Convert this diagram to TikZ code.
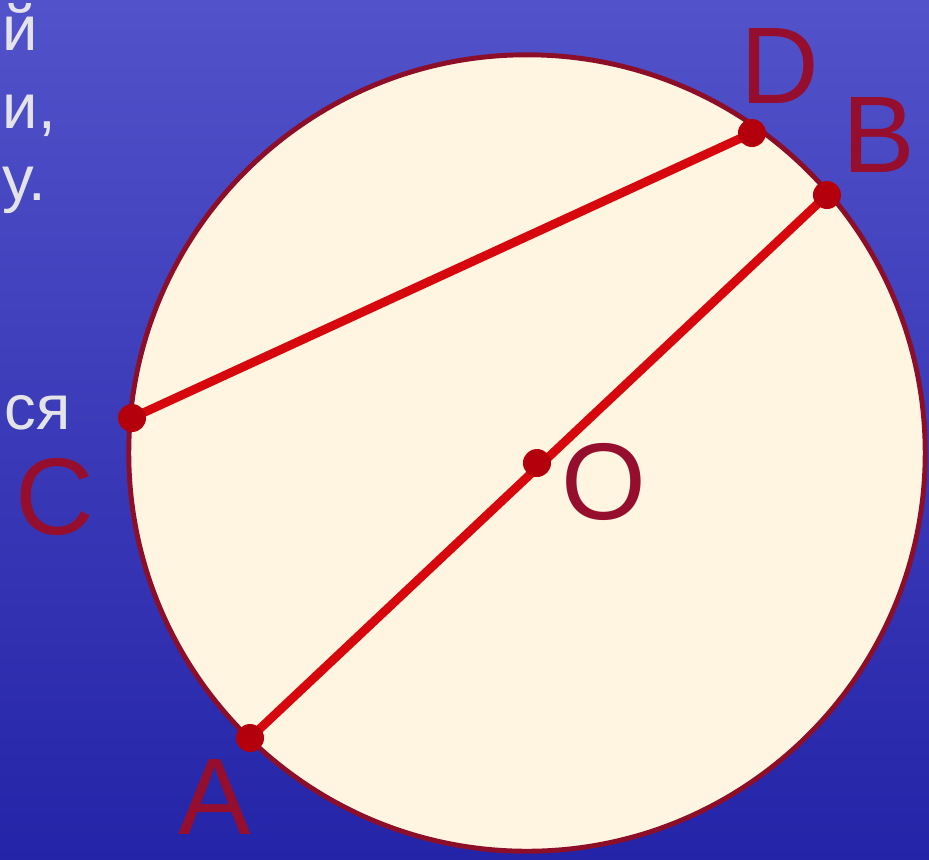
\documentclass[tikz,border=0pt]{standalone}
\usepackage{fontspec}
\setmainfont{Liberation Sans}
\usetikzlibrary{positioning}
\definecolor{bgtop}{RGB}{82,82,202}
\definecolor{bgbot}{RGB}{36,36,168}
\definecolor{disk}{RGB}{255,245,224}
\definecolor{rim}{RGB}{140,14,40}
\definecolor{chordred}{RGB}{214,8,14}
\definecolor{dotred}{RGB}{180,0,12}
\definecolor{lblred}{RGB}{150,14,46}
\definecolor{slidetext}{RGB}{228,228,232}

\begin{document}
\begin{tikzpicture}[x=0.01cm, y=-0.01cm,
  chordline/.style={draw=chordred, line width=2.5pt, line cap=round},
  ptdot/.style={fill=dotred},
  ptlabel/.style={text=lblred, inner sep=0pt, font=\fontsize{31}{31}\selectfont},
  cuttext/.style={text=slidetext, inner sep=0pt, anchor=base west, font=\fontsize{18}{22}\selectfont}]
\useasboundingbox (0,0) rectangle (929,859);

% Background
\shade[top color=bgtop, bottom color=bgbot] (0,0) rectangle (929,859);

% Slide text on the left
\node[cuttext] (t1) at (2,50) {й};
\node[cuttext] (t2) at (2,128) {и,};
\node[cuttext] (t3) at (2,200) {у.};
\node[cuttext] (t4) at (4,429) {ся};

% Circle
\coordinate (M) at (527,453);
\filldraw[fill=disk, draw=rim, line width=1.4pt] (M) circle[radius=3.98cm];

% Points
\coordinate (A) at (250,738);
\coordinate (B) at (827,195);
\coordinate (C) at (132,418);
\coordinate (D) at (752,133);
\coordinate (O) at (537,463);

% Chords
\draw[chordline] (C) -- (D);
\draw[chordline] (A) -- (B);

\foreach \p in {A,B,C,D,O}
  \fill[ptdot] (\p) circle[radius=0.14cm];

% Labels
\node[ptlabel] (lA) at (215,797) {A};
\node[ptlabel] (lB) at (879,135) {B};
\node[ptlabel] (lC) at (55,497) {C};
\node[ptlabel] (lD) at (780,66) {D};
\node[ptlabel] (lO) at (604,482) {O};
\end{tikzpicture}
\end{document}
